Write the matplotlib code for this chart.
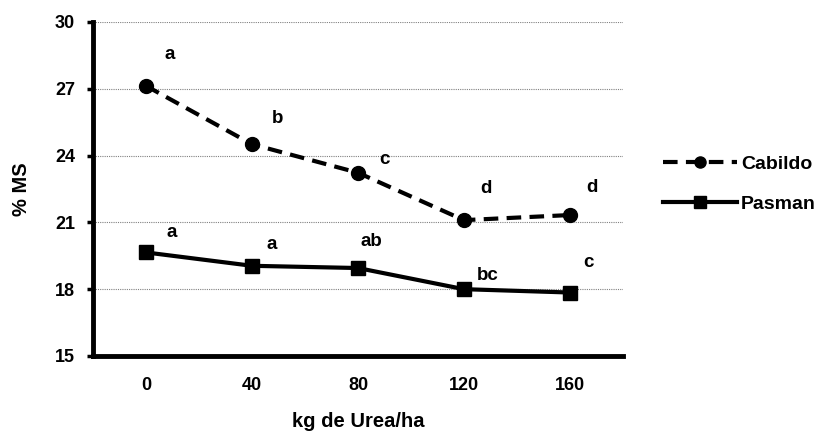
import matplotlib.pyplot as plt

plt.rcParams['font.family'] = ['Liberation Sans', 'DejaVu Sans']
plt.rcParams['font.weight'] = 'bold'

# Dry matter (%) by urea dose for the two cultivars
doses = ['0', '40', '80', '120', '160']
cabildo = [27.13, 24.51, 23.23, 21.10, 21.33]
pasman = [19.65, 19.05, 18.95, 18.00, 17.85]
cabildo_letters = ['a', 'b', 'c', 'd', 'd']
pasman_letters = ['a', 'a', 'ab', 'bc', 'c']

# letter offsets from each point, in pixels
cabildo_offsets = [(24, 31), (26, 26), (26, 13), (22, 32), (22, 28)]
pasman_offsets = [(26, 20), (20, 21), (13, 27), (24, 14), (18, 30)]

fig = plt.figure(figsize=(8.17, 4.37), dpi=100)
ax = fig.add_axes([0.1138, 0.1854, 0.6487, 0.7643])

x = range(len(doses))
ax.plot(x, cabildo, color='black', lw=3, ls='--', dashes=(3.5, 2),
        marker='o', ms=10, label='Cabildo', zorder=3)
ax.plot(x, pasman, color='black', lw=3, ls='-',
        marker='s', ms=10, label='Pasman', zorder=3)

px = 72 / fig.dpi
for xi, yi, lab, (dx, dy) in zip(x, cabildo, cabildo_letters, cabildo_offsets):
    ax.annotate(lab, (xi, yi), xytext=(dx * px, dy * px), textcoords='offset points',
                ha='center', va='center', fontsize=13.5, fontweight='bold')
for xi, yi, lab, (dx, dy) in zip(x, pasman, pasman_letters, pasman_offsets):
    ax.annotate(lab, (xi, yi), xytext=(dx * px, dy * px), textcoords='offset points',
                ha='center', va='center', fontsize=13.5, fontweight='bold')

ax.set_xlim(-0.5, 4.5)
ax.set_ylim(15, 30)
ax.set_xticks(list(x))
ax.set_xticklabels(doses)
ax.set_yticks([15, 18, 21, 24, 27, 30])

ax.grid(axis='y', color='#808080', ls=(0, (1, 1)), lw=0.8)
ax.set_axisbelow(True)

for side in ['top', 'right']:
    ax.spines[side].set_visible(False)
ax.spines['left'].set_linewidth(3.5)
ax.spines['bottom'].set_linewidth(3.5)

ax.tick_params(axis='y', length=4, width=2.5, pad=9, labelsize=13)
ax.tick_params(axis='x', length=0, pad=15, labelsize=13)
for t in ax.get_xticklabels() + ax.get_yticklabels():
    t.set_fontweight('bold')

ax.set_xlabel('kg de Urea/ha', fontsize=14.5, fontweight='bold')
ax.set_ylabel('% MS', fontsize=14.5, fontweight='bold')
ax.xaxis.set_label_coords(0.5, -0.168)
ax.yaxis.set_label_coords(-0.117, 0.5)

fig.legend(handles=ax.get_lines(), loc='center left',
           bbox_to_anchor=(663 / 817, 1 - 184 / 437), frameon=False,
           borderpad=0, borderaxespad=0, handlelength=3.8, fontsize=14,
           labelspacing=1.15, handletextpad=0.2, markerscale=0.8)

fig.savefig('out.png', dpi=100)
